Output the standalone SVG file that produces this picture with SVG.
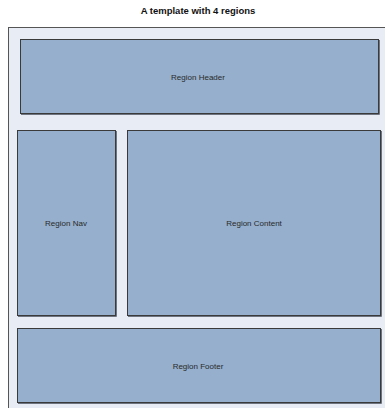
<svg xmlns="http://www.w3.org/2000/svg" width="385" height="408" viewBox="0 0 385 408">
  <style>
    .frame { fill: #E8ECF4; stroke: #555; stroke-width: 1; }
    .region { fill: #95AFCD; stroke: #3A3A3A; stroke-width: 1; }
    .shadow { fill: none; stroke: #6E7480; stroke-width: 1; }
    .title { font-family: "Liberation Sans", Arial, sans-serif; font-size: 9.5px; font-weight: bold; fill: #111; text-anchor: middle; }
    .label { font-family: "Liberation Sans", Arial, sans-serif; font-size: 8px; fill: #2A2A2A; text-anchor: middle; }
  </style>
  <rect width="385" height="408" fill="#FFFFFF"/>
  <text class="title" x="198" y="14">A template with 4 regions</text>

  <g id="page">
    <rect class="frame" x="8.5" y="27.5" width="390" height="390"/>
  </g>

  <g id="region-header">
    <polyline class="shadow" points="21,114.5 379.5,114.5 379.5,40"/>
    <rect class="region" x="20.5" y="39.5" width="358" height="74"/>
    <text class="label" x="198" y="80">Region Header</text>
  </g>

  <g id="region-nav">
    <polyline class="shadow" points="18,316.5 116.5,316.5 116.5,131"/>
    <rect class="region" x="17.5" y="130.5" width="98" height="185"/>
    <text class="label" x="66" y="226">Region Nav</text>
  </g>

  <g id="region-content">
    <polyline class="shadow" points="128,316.5 381.5,316.5 381.5,131"/>
    <rect class="region" x="127.5" y="130.5" width="253" height="185"/>
    <text class="label" x="254" y="226">Region Content</text>
  </g>

  <g id="region-footer">
    <polyline class="shadow" points="18,403.5 381.5,403.5 381.5,329"/>
    <rect class="region" x="17.5" y="328.5" width="363" height="74"/>
    <text class="label" x="198" y="369">Region Footer</text>
  </g>

  <g id="connectors"></g>
</svg>
